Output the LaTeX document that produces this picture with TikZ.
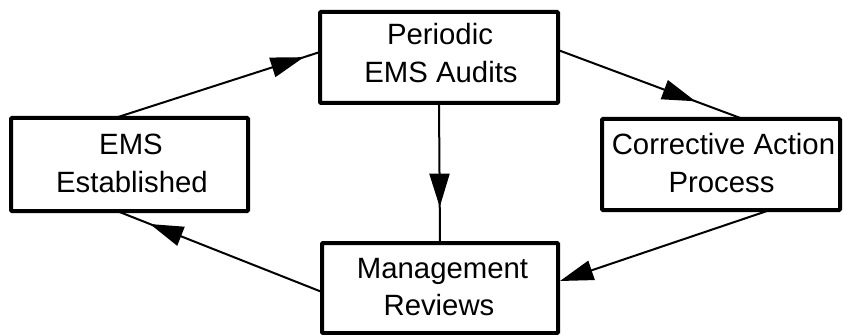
\documentclass[tikz,border=0pt]{standalone}
\usepackage{fontspec}
\setmainfont{Liberation Sans}
\usetikzlibrary{arrows.meta,decorations.markings}
\tikzset{
  box/.style={draw, line width=3pt, rounded corners=0.8pt, inner sep=0pt, outer sep=0pt},
  lbl/.style={inner sep=0pt, outer sep=0pt, anchor=base, font=\fontsize{22pt}{27pt}\selectfont},
  conn/.style={line width=1.5pt},
  headat/.style={postaction={decorate, decoration={markings,
      mark=at position #1 with {\arrow{Triangle[length=25pt,width=15pt]}}}}}
}
\begin{document}
\begin{tikzpicture}[x=0.75pt,y=-0.75pt]
\useasboundingbox (0,0) rectangle (843,335);
% boxes
\node[box, minimum width=178.5pt, minimum height=68.25pt] (p) at (439,57.5) {};
\node[box, minimum width=177.75pt, minimum height=69.75pt] (e) at (129.5,164.5) {};
\node[box, minimum width=178.5pt, minimum height=68.25pt] (c) at (721,164.5) {};
\node[box, minimum width=177pt, minimum height=67.5pt] (m) at (440,288) {};
% texts
\node[lbl] (p1) at (440,45) {Periodic};
\node[lbl] (p2) at (441,83) {EMS Audits};
\node[lbl] (e1) at (131,155) {EMS};
\node[lbl] (e2) at (132,192) {Established};
\node[lbl, anchor=base west] (c1) at (611.8,155) {Corrective Action};
\node[lbl] (c2) at (721.5,192) {Process};
\node[lbl] (m1) at (442.5,278) {Management};
\node[lbl] (m2) at (439,315) {Reviews};
% connectors
\draw[conn, headat=-12.6pt] ([xshift=-10.875pt]e.north) -- ([yshift=4.125pt]p.west);
\draw[conn, headat=-38pt] ([yshift=5.625pt]p.east) -- ([xshift=16.5pt]c.north);
\draw[conn, headat=-27pt] (p.south) -- (m.north);
\draw[conn, -{Triangle[length=25pt,width=15pt]}] ([xshift=36.75pt]c.south) -- ([xshift=1.5pt,yshift=5.25pt]m.east);
\draw[conn, headat=-26.6pt] ([yshift=-3pt]m.west) -- ([xshift=-9.375pt]e.south);
\end{tikzpicture}
\end{document}
